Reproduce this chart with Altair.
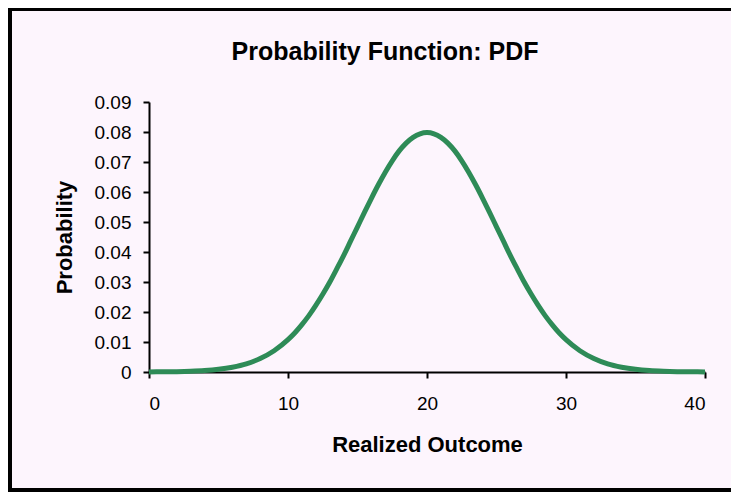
import altair as alt
import pandas as pd

# Curve points (Realized Outcome vs Probability)
outcome = [0, 1, 2, 3, 4, 5, 6, 7, 8, 9, 10, 10.5, 11, 11.5, 12, 12.5, 13, 13.5, 14, 14.5,
           15, 15.5, 16, 16.5, 17, 17.5, 18, 18.5, 19, 19.5, 20, 20.5, 21, 21.5, 22, 22.5,
           23, 23.5, 24, 24.5, 25, 25.5, 26, 26.5, 27, 27.5, 28, 28.5, 29, 29.5, 30, 31,
           32, 33, 34, 35, 36, 37, 38, 39, 40]
probability = [0.00003, 0.00006, 0.00012, 0.00025, 0.00048, 0.0009, 0.0016, 0.0027, 0.0045,
               0.0071, 0.0108, 0.0131, 0.0158, 0.0188, 0.0222, 0.0259, 0.0299, 0.0343,
               0.0388, 0.0436, 0.0484, 0.0532, 0.0579, 0.0624, 0.0666, 0.0704, 0.0737,
               0.0763, 0.0782, 0.0794, 0.0798, 0.0794, 0.0782, 0.0763, 0.0737, 0.0704,
               0.0666, 0.0624, 0.0579, 0.0532, 0.0484, 0.0436, 0.0388, 0.0343, 0.0299,
               0.0259, 0.0222, 0.0188, 0.0158, 0.0131, 0.0108, 0.0071, 0.0045, 0.0027,
               0.0016, 0.0009, 0.00048, 0.00025, 0.00012, 0.00006, 0.00003]

x_ticks = [0, 10, 20, 30, 40]
y_ticks = [0, 0.01, 0.02, 0.03, 0.04, 0.05, 0.06, 0.07, 0.08, 0.09]
chart_title = "Probability Function: PDF"

df = pd.DataFrame({"outcome": outcome, "probability": probability})

FONT = "Liberation Sans"

line = alt.Chart(df).mark_line(
    color="#2E8B57", strokeWidth=5, interpolate="monotone"
).encode(
    x=alt.X("outcome:Q",
            scale=alt.Scale(domain=[0, 40], nice=False, zero=False),
            axis=alt.Axis(values=x_ticks, title="Realized Outcome", grid=False,
                          labelPadding=16, titlePadding=21, tickSize=6)),
    y=alt.Y("probability:Q",
            scale=alt.Scale(domain=[0, 0.09], nice=False),
            axis=alt.Axis(values=y_ticks, title="Probability", grid=False,
                          labelExpr="datum.value == 0 ? '0' : format(datum.value, '.2f')",
                          labelPadding=12, titlePadding=18, tickSize=6)),
)

one = alt.Data(values=[{}])
left_edge = alt.Chart(one).mark_rect(color="black").encode(
    x=alt.value(-141), x2=alt.value(-137), y=alt.value(-94), y2=alt.value(390),
)
top_edge = alt.Chart(one).mark_rect(color="black").encode(
    x=alt.value(-141), x2=alt.value(600), y=alt.value(-94), y2=alt.value(-91),
)
bottom_edge = alt.Chart(one).mark_rect(color="black").encode(
    x=alt.value(-141), x2=alt.value(600), y=alt.value(386), y2=alt.value(390),
)

title = alt.Chart(alt.Data(values=[{"t": chart_title}])).mark_text(
    font=FONT, fontSize=25, fontWeight="bold", color="black",
    align="center", baseline="alphabetic"
).encode(
    text="t:N", x=alt.value(236), y=alt.value(-42),
)

chart = alt.layer(left_edge, top_edge, bottom_edge, line, title).properties(
    width=556,
    height=270,
    autosize=alt.AutoSizeParams(type="none"),
    padding={"left": 141, "top": 94, "right": 26, "bottom": 120},
    background="#FDF5FD",
).configure_view(
    stroke=None
).configure_axis(
    domainColor="black", domainWidth=2, tickColor="black", tickWidth=2,
    labelFont=FONT, labelFontSize=19, labelColor="black",
    titleFont=FONT, titleFontSize=22, titleFontWeight="bold", titleColor="black",
)

chart.save("out.html", embed_options={"renderer": "svg", "actions": False})
